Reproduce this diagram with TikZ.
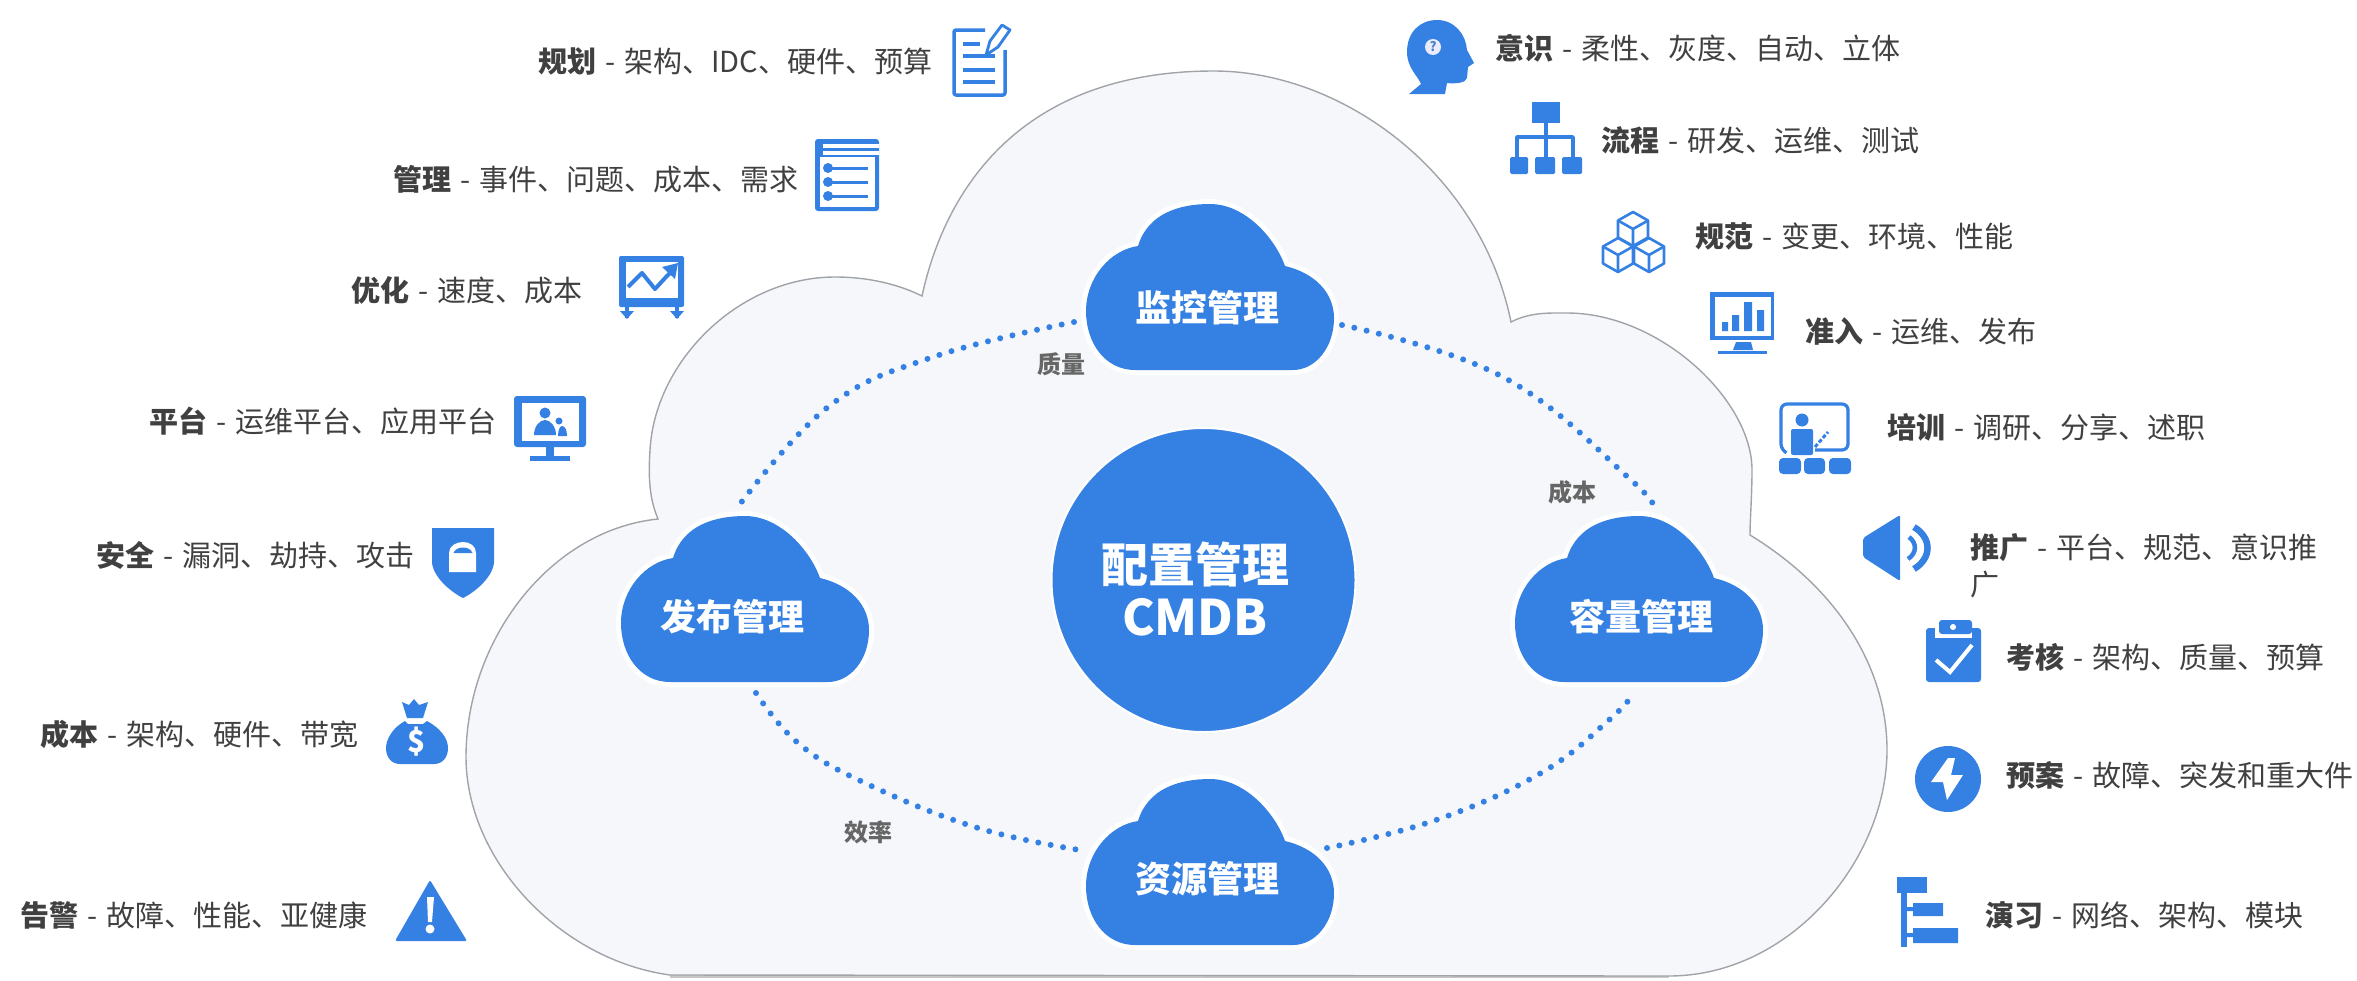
\documentclass[tikz,border=0pt]{standalone}
\usepackage{fontspec}
\setmainfont{Noto Sans CJK SC}
\definecolor{bl}{HTML}{3580E3}
\definecolor{txt}{HTML}{404040}
\definecolor{cfill}{HTML}{F5F7FA}
\definecolor{cline}{HTML}{A0A4A8}
\newcommand\sepd{\kern2.6pt{} - \kern2.6pt{}}
\tikzset{
  lab/.style={anchor=west,inner sep=0pt,text=txt,font=\fontsize{29}{35}\selectfont},
  link/.style={anchor=center,inner sep=0pt,text=txt!80,font=\bfseries\fontsize{24}{28}\selectfont},
  ctext/.style={anchor=center,inner sep=0pt,text=white,font=\bfseries\fontsize{36}{42}\selectfont},
  dotline/.style={draw=bl,line width=6pt,line cap=round,dash pattern=on 0pt off 12.6pt},
  ic/.style={line width=3.5pt,draw=bl,line join=round},
  smallcloud/.pic={
    \path[fill=bl,draw=white,line width=10pt,line join=round]
      (-75,82) .. controls (-105,82) and (-124,55) .. (-124,23)
      .. controls (-124,-10) and (-100,-38) .. (-72,-42)
      .. controls (-62,-75) and (-30,-84) .. (0,-84)
      .. controls (35,-84) and (65,-50) .. (75,-22)
      .. controls (105,-15) and (124,5) .. (124,30)
      .. controls (124,60) and (105,82) .. (83,82) -- cycle;
    \fill[bl] (-75,82) .. controls (-105,82) and (-124,55) .. (-124,23)
      .. controls (-124,-10) and (-100,-38) .. (-72,-42)
      .. controls (-62,-75) and (-30,-84) .. (0,-84)
      .. controls (35,-84) and (65,-50) .. (75,-22)
      .. controls (105,-15) and (124,5) .. (124,30)
      .. controls (124,60) and (105,82) .. (83,82) -- cycle;
  }
}
\newcommand\cubeicon[2]{\begin{scope}[shift={(#1,#2)}]
  \draw[bl,line width=2.6pt,line join=round,fill=white] (0,-17) -- (15,-8.5) -- (15,8.5) -- (0,17) -- (-15,8.5) -- (-15,-8.5) -- cycle;
  \draw[bl,line width=2.6pt,line join=round] (-15,-8.5) -- (0,0) -- (15,-8.5) (0,0) -- (0,17);
\end{scope}}
\begin{document}
\begin{tikzpicture}[x=1pt,y=-1pt]
\useasboundingbox (0,0) rectangle (2357,980);
% big cloud
\path[fill=gray!45] (670,978) -- (1669,978) -- (1669,970) -- (670,970) -- cycle;
\path[fill=cfill,draw=cline,line width=1.4pt]
 (658,519) .. controls (650,500) and (648,480) .. (650,450)
 .. controls (655,360) and (740,277) .. (835,277)
 .. controls (870,277) and (900,285) .. (922,296)
 .. controls (945,190) and (1020,71) .. (1214,71)
 .. controls (1340,71) and (1480,170) .. (1511,322)
 .. controls (1530,312) and (1550,313) .. (1567,313)
 .. controls (1660,313) and (1752,400) .. (1752,470)
 .. controls (1752,495) and (1750,520) .. (1750,535)
 .. controls (1840,590) and (1887,670) .. (1887,750)
 .. controls (1887,860) and (1790,976) .. (1669,976)
 -- (670,975)
 .. controls (560,960) and (466,860) .. (466,757)
 .. controls (466,640) and (550,530) .. (658,519) -- cycle;
% centre
\node[circle,fill=bl,draw=white,line width=2pt,minimum size=304pt,inner sep=0pt] (cmdb) at (1203.5,580) {};
\node[anchor=center,inner sep=0pt,text=white,font=\bfseries\fontsize{47}{52}\selectfont] (cmdbt1) at (1195,564) {配置管理};
\node[anchor=center,inner sep=0pt,text=white,font=\bfseries\fontsize{49}{54}\selectfont] (cmdbt2) at (1195,617) {CMDB};
% small clouds
\pic at (1210,288) {smallcloud};
\pic at (745,600) {smallcloud};
\pic at (1639,600) {smallcloud};
\pic at (1210,863) {smallcloud};
\node[ctext] (mon) at (1207,308) {监控管理};
\node[ctext] (pub) at (732,617) {发布管理};
\node[ctext] (cap) at (1641,617) {容量管理};
\node[ctext] (res) at (1207,879) {资源管理};
% connector ends
\coordinate (monE) at (1342,325);
\coordinate (monW) at (1074,322);
\coordinate (capN) at (1654,510);
\coordinate (capS) at (1634,693);
\coordinate (pubN) at (737,508);
\coordinate (pubS) at (756,693);
\coordinate (resW) at (1086,851);
\coordinate (resE) at (1327,848);
\draw[dotline] plot[smooth,tension=.7] coordinates {(monE) (1503,377) (1631,480) (capN)};
\draw[dotline] plot[smooth,tension=.7] coordinates {(monW) (933,357) (828,407) (pubN)};
\draw[dotline] plot[smooth,tension=.7] coordinates {(pubS) (798,743) (865,783) (978,828) (resW)};
\draw[dotline] plot[smooth,tension=.7] coordinates {(resE) (1436,820) (1541,773) (1609,720) (capS)};
\node[link] (l1) at (1061,364) {质量};
\node[link] (l2) at (1572,492) {成本};
\node[link] (l3) at (868,832) {效率};
% labels left
\node[lab] (a1) at (538,61) {\textbf{规划}\sepd 架构、IDC、硬件、预算};
\node[lab] (a2) at (393,179) {\textbf{管理}\sepd 事件、问题、成本、需求};
\node[lab] (a3) at (351,290) {\textbf{优化}\sepd 速度、成本};
\node[lab] (a4) at (149,421) {\textbf{平台}\sepd 运维平台、应用平台};
\node[lab] (a5) at (96,555) {\textbf{安全}\sepd 漏洞、劫持、攻击};
\node[lab] (a6) at (40,734) {\textbf{成本}\sepd 架构、硬件、带宽};
\node[lab] (a7) at (20,915) {\textbf{告警}\sepd 故障、性能、亚健康};
% labels right
\node[lab] (b1) at (1495,48) {\textbf{意识}\sepd 柔性、灰度、自动、立体};
\node[lab] (b2) at (1601,140) {\textbf{流程}\sepd 研发、运维、测试};
\node[lab] (b3) at (1695,236) {\textbf{规范}\sepd 变更、环境、性能};
\node[lab] (b4) at (1805,331) {\textbf{准入}\sepd 运维、发布};
\node[lab] (b5) at (1887,427) {\textbf{培训}\sepd 调研、分享、述职};
\node[lab,align=left] (b6) at (1970,566) {\textbf{推广}\sepd 平台、规范、意识推\\[2pt]广};
\node[lab] (b7) at (2006,657) {\textbf{考核}\sepd 架构、质量、预算};
\node[lab] (b8) at (2006,775) {\textbf{预案}\sepd 故障、突发和重大件};
\node[lab] (b9) at (1985,915) {\textbf{演习}\sepd 网络、架构、模块};
% ---------- icons ----------
% doc + pencil
\draw[ic,rounded corners=2pt] (985,30) -- (954,30) -- (954,95) -- (1005,95) -- (1005,50);
\draw[ic] (963,44) -- (980,44) (963,56) -- (995,56) (963,70) -- (995,70) (963,82) -- (995,82);
\draw[bl,line width=2.8pt,line join=round,fill=white] (986,55) -- (990,41) -- (1002,25) -- (1010,30) -- (998,47) -- cycle;
% list
\fill[bl,rounded corners=3pt] (815,139) rectangle (879,211);
\fill[white] (823,143.5) rectangle (879,148);
\fill[white] (823,151) rectangle (879,155);
\fill[white] (820,157) rectangle (875,207);
\foreach \y in {168,182,196}{\fill[bl] (828,\y) circle[radius=5]; \draw[bl,line width=3pt] (828,\y) -- (868,\y);}
% chart board
\fill[bl,rounded corners=2pt] (619,256) rectangle (684,307);
\fill[white] (626,262) rectangle (678,298);
\draw[bl,line width=4pt,line join=round] (628,287) -- (642,273) -- (655,289) -- (666,277) -- (674,269);
\fill[bl] (678,263) -- (662,267) -- (675,279) -- cycle;
\draw[bl,line width=4.5pt] (627,306) -- (627,318) (677,306) -- (677,318);
\fill[bl] (620,311) -- (634,311) -- (627,319) -- cycle (670,311) -- (684,311) -- (677,319) -- cycle;
% monitor persons
\fill[bl,rounded corners=3pt] (514,396) rectangle (586,447);
\fill[white] (522,403) rectangle (579,441);
\fill[bl] (546,447) rectangle (554,457);
\fill[bl] (530,456) rectangle (570,461);
\fill[bl] (545,413) circle[radius=5.5];
\fill[bl] (534,435) .. controls (534,426) and (540,420) .. (545,420) .. controls (550,420) and (556,426) .. (556,435) -- cycle;
\fill[bl] (559,421) circle[radius=3.5];
\fill[bl] (558,436) .. controls (558,430) and (560,426) .. (562,426) .. controls (565,426) and (567,430) .. (567,436) -- cycle;
% shield
\fill[bl] (432,528) -- (494,528) -- (494,563) .. controls (492,578) and (475,592) .. (463,598) .. controls (451,592) and (434,578) .. (432,563) -- cycle;
\fill[white] (449,572) -- (449,553) .. controls (449,546) and (456,542) .. (463,542) .. controls (470,542) and (476,546) .. (476,553) -- (476,572) -- cycle;
\fill[bl] (453.5,553) .. controls (455,549) and (459,547.5) .. (463,547.5) .. controls (467,547.5) and (471,549) .. (472.5,553) -- cycle;
% money bag
\fill[bl] (402,702) -- (409,705) -- (414,699) -- (419,705) -- (428,702) -- (423,718) -- (407,718) -- cycle;
\fill[bl] (405,721) .. controls (392,728) and (386,740) .. (386,748) .. controls (386,758) and (392,764) .. (400,764) -- (434,764) .. controls (442,764) and (448,758) .. (448,748) .. controls (448,738) and (440,728) .. (427,721) -- (423,724) -- (408,724) -- cycle;
\node[anchor=center,inner sep=0pt,text=white,font=\bfseries\fontsize{30}{32}\selectfont] (dollar) at (417,742) {\$};
% warning triangle
\fill[bl,rounded corners=2pt] (430,880) -- (467,941) -- (395,941) -- cycle;
\fill[white] (427,897) -- (434,897) -- (432,922) -- (428,922) -- cycle;
\fill[white] (430,929) circle[radius=4.5];
% head
\fill[bl] (1409,94) -- (1421,84) .. controls (1418,76) and (1407,68) .. (1407,52) .. controls (1407,32) and (1420,20) .. (1437,20) .. controls (1455,20) and (1466,35) .. (1467,50) -- (1474,63) -- (1468,67) -- (1467,78) .. controls (1466,83) and (1455,84) .. (1447,83) -- (1445,94) -- cycle;
\node[circle,fill=blue!8,inner sep=0pt,minimum size=16pt,text=bl!70!gray,font=\bfseries\fontsize{13}{14}\selectfont] (qm) at (1433,47) {?};
% org chart
\fill[bl] (1532,102) rectangle (1560,123);
\draw[ic] (1546,123) -- (1546,157) (1517,157) -- (1517,137) -- (1573,137) -- (1573,157);
\fill[bl,rounded corners=1.5pt] (1510,157) rectangle (1528,174) (1535,157) rectangle (1555,174) (1562,157) rectangle (1582,174);
% cubes
\cubeicon{1633}{229}
\cubeicon{1618}{255}
\cubeicon{1649}{255}
% monitor bars
\fill[bl] (1710,292) rectangle (1774,340);
\fill[white] (1715,297) rectangle (1771,336);
\fill[bl] (1722,322) rectangle (1728,331) (1732,315) rectangle (1739,331) (1744,302) rectangle (1752,331) (1757,310) rectangle (1764,331);
\fill[bl] (1736,342) -- (1751,342) -- (1753,350) -- (1733,350) -- cycle;
\fill[bl] (1718,351) rectangle (1767,353.5);
% training
\draw[bl,line width=3.2pt,rounded corners=6pt] (1785,452) -- (1781,450) -- (1781,404) -- (1848,404) -- (1848,450) -- (1815,450);
\fill[bl] (1802,420) circle[radius=6.5];
\fill[bl,rounded corners=2pt] (1791,455) -- (1791,429) -- (1813,429) -- (1813,455) -- cycle;
\draw[bl,line width=3pt,dash pattern=on 4pt off 2pt] (1815,447) -- (1828,432);
\fill[bl,rounded corners=4pt] (1779,474) -- (1779,458) -- (1801,458) -- (1801,474) -- cycle;
\fill[bl,rounded corners=4pt] (1804,474) -- (1804,458) -- (1825,458) -- (1825,474) -- cycle;
\fill[bl,rounded corners=4pt] (1829,474) -- (1829,458) -- (1851,458) -- (1851,474) -- cycle;
% speaker
\fill[bl,rounded corners=2pt] (1863,538) -- (1900,515) -- (1900,581) -- (1863,557) -- cycle;
\draw[bl,line width=4.5pt] (1909,537) .. controls (1917,543) and (1917,553) .. (1908,559);
\draw[bl,line width=6.5pt] (1914,527) .. controls (1932,538) and (1932,558) .. (1914,569);
% clipboard
\fill[bl,rounded corners=3pt] (1926,628) rectangle (1981,682);
\fill[white] (1935,626) rectangle (1972,638);
\fill[bl,rounded corners=3pt] (1939,620) rectangle (1972,634);
\fill[white] (1953,627) circle[radius=3];
\draw[white,line width=4pt,line join=miter] (1936,660) -- (1950,672) -- (1972,645);
% bolt
\fill[bl] (1948,779) circle[radius=33];
\fill[white] (1948,758) -- (1931,782) -- (1943,782) -- (1947,800) -- (1963,775) -- (1951,775) -- (1955,758) -- cycle;
% tree
\fill[bl] (1897,877) rectangle (1927,893);
\fill[bl] (1901,893) rectangle (1907,947);
\fill[bl] (1907,907) rectangle (1913,911) (1907,933) rectangle (1913,937);
\fill[bl] (1913,903) rectangle (1943,916) (1913,928) rectangle (1958,943);
\end{tikzpicture}
\end{document}
